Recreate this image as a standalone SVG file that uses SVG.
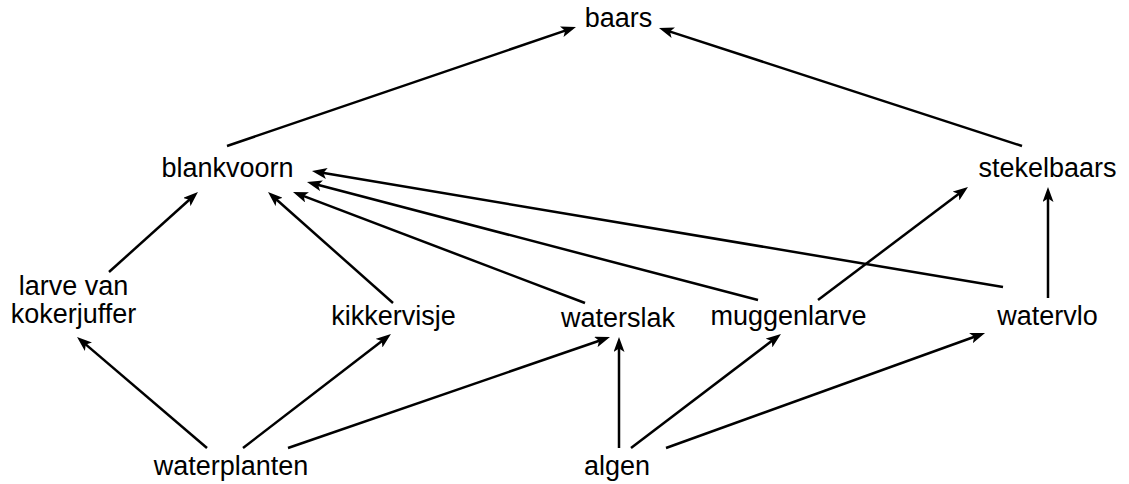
<svg xmlns="http://www.w3.org/2000/svg" width="1129" height="484" viewBox="0 0 1129 484">
<style>
.lbl{font-family:"Liberation Sans",Arial,sans-serif;font-size:27px;fill:#000;text-anchor:middle}
.edge{stroke:#000;stroke-width:2.5;fill:none;marker-end:url(#ah)}
</style>
<defs>
<marker id="ah" viewBox="0 0 15 11" refX="9" refY="5.5" markerWidth="15" markerHeight="11" markerUnits="userSpaceOnUse" orient="auto">
<path d="M0,0 L15,5.5 L0,11 L3.5,5.5 Z" fill="#000"/>
</marker>
</defs>
<rect width="1129" height="484" fill="#fff"/>
<g id="connectors">
<line class="edge" x1="227" y1="146" x2="570.3" y2="28.9"/>
<line class="edge" x1="1022" y1="146" x2="664.7" y2="29.9"/>
<line class="edge" x1="109" y1="272" x2="193.5" y2="196"/>
<line class="edge" x1="393" y1="303" x2="272.5" y2="196"/>
<line class="edge" x1="585" y1="303" x2="298.6" y2="194.1"/>
<line class="edge" x1="758" y1="300" x2="312.8" y2="183.5"/>
<line class="edge" x1="1003" y1="287" x2="317.9" y2="172"/>
<line class="edge" x1="818" y1="300" x2="963.2" y2="190.6"/>
<line class="edge" x1="1048" y1="298" x2="1048" y2="193"/>
<line class="edge" x1="207" y1="448" x2="81.6" y2="340.9"/>
<line class="edge" x1="243" y1="448" x2="386.2" y2="337.7"/>
<line class="edge" x1="288" y1="448" x2="604.3" y2="339"/>
<line class="edge" x1="619" y1="448" x2="619" y2="343"/>
<line class="edge" x1="631" y1="448" x2="776.2" y2="337.6"/>
<line class="edge" x1="666" y1="448" x2="979.4" y2="335"/>
</g>
<g id="baars"><text class="lbl" x="618.5" y="27">baars</text></g>
<g id="blankvoorn"><text class="lbl" x="227.5" y="177">blankvoorn</text></g>
<g id="stekelbaars"><text class="lbl" x="1047.5" y="177">stekelbaars</text></g>
<g id="larve-van-kokerjuffer"><text class="lbl" x="73.5" y="295">larve van</text><text class="lbl" x="73.5" y="323">kokerjuffer</text></g>
<g id="kikkervisje"><text class="lbl" x="393.5" y="325">kikkervisje</text></g>
<g id="waterslak"><text class="lbl" x="618" y="327">waterslak</text></g>
<g id="muggenlarve"><text class="lbl" x="788.5" y="325">muggenlarve</text></g>
<g id="watervlo"><text class="lbl" x="1047.5" y="325">watervlo</text></g>
<g id="waterplanten"><text class="lbl" x="231" y="475">waterplanten</text></g>
<g id="algen"><text class="lbl" x="617" y="475">algen</text></g>
</svg>
